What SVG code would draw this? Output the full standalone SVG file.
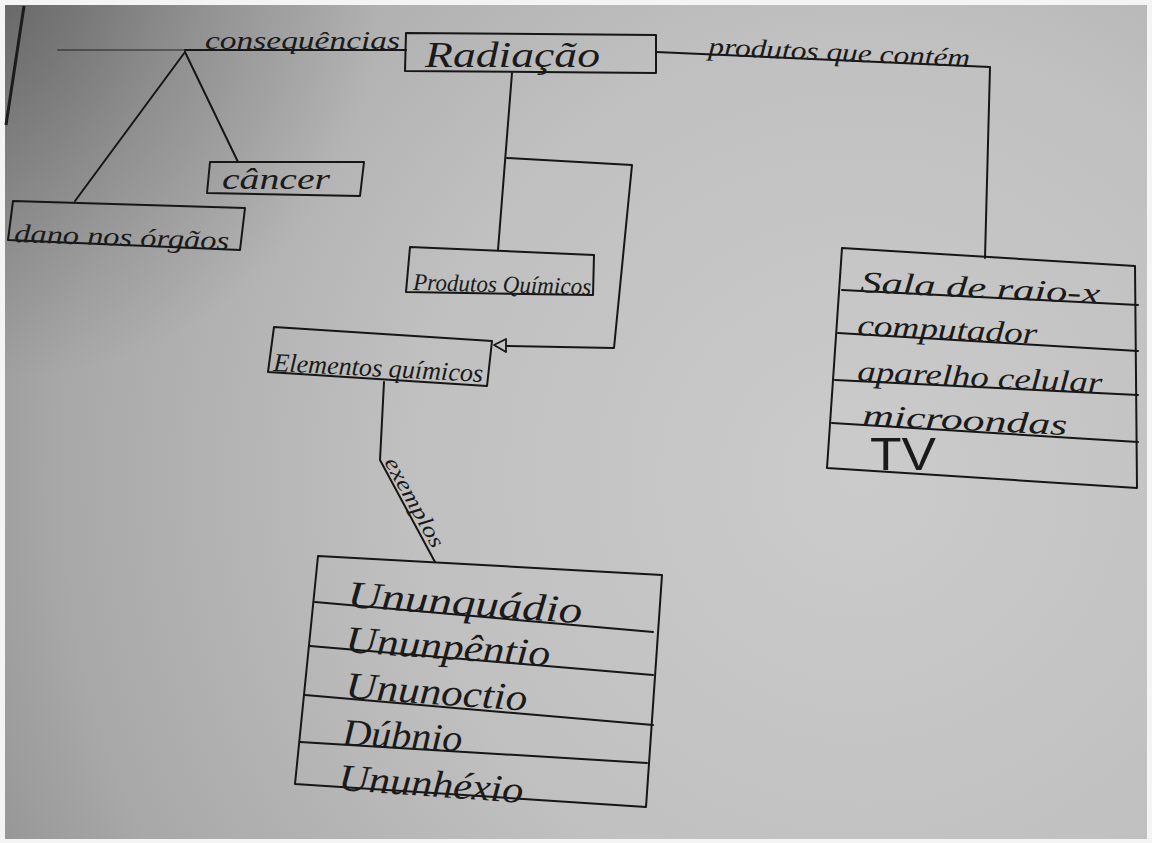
<svg xmlns="http://www.w3.org/2000/svg" width="1152" height="843" viewBox="0 0 1152 843">
  <defs>
    <radialGradient id="paper" gradientUnits="userSpaceOnUse" cx="860" cy="480" r="1000">
      <stop offset="0" stop-color="#cbcbcb"/>
      <stop offset="0.45" stop-color="#c0c0c0"/>
      <stop offset="0.8" stop-color="#a8a8a8"/>
      <stop offset="1" stop-color="#8e8e8e"/>
    </radialGradient>
    <radialGradient id="corner" gradientUnits="userSpaceOnUse" cx="0" cy="0" r="380">
      <stop offset="0" stop-color="#000" stop-opacity="0.28"/>
      <stop offset="1" stop-color="#000" stop-opacity="0"/>
    </radialGradient>
    <style>
      .ink { fill: none; stroke: #161616; stroke-width: 2; stroke-linecap: round; stroke-linejoin: round; }
      .box { fill: none; stroke: #161616; stroke-width: 2; stroke-linejoin: round; }
      .hand { font-family: "Liberation Serif", "DejaVu Serif", serif; font-style: italic; fill: #1a1a1a; }
    </style>
  </defs>

  <!-- sheet of paper -->
  <rect x="0" y="0" width="1152" height="843" fill="#f4f4f4"/>
  <rect x="5" y="5" width="1142" height="834" fill="url(#paper)"/>
  <rect x="5" y="5" width="1142" height="834" fill="url(#corner)"/>
  <path d="M24,6 L6,125" stroke="#1c1c1c" stroke-width="3" fill="none"/>

  <!-- connectors -->
  <g id="connectors">
    <path class="ink" d="M58,50 L185,50" stroke-opacity="0.45"/>
    <path class="ink" d="M185,50 L406,50"/>
    <path class="ink" d="M185,52 L75,201"/>
    <path class="ink" d="M185,52 L238,162"/>
    <path class="ink" d="M656,52 L990,67 L985,258"/>
    <path class="ink" d="M512,73 L498,250"/>
    <path class="ink" d="M507,158 L632,165 L614,348 L507,346"/>
    <path d="M494,345 L506,339 L506,352 Z" fill="none" stroke="#161616" stroke-width="1.8" stroke-linejoin="round"/>
    <path class="ink" d="M384,382 L380,460 L435,562"/>
    <text class="hand" x="205" y="49" font-size="26" textLength="195" lengthAdjust="spacingAndGlyphs">consequências</text>
    <text class="hand" x="708" y="55" font-size="26" textLength="262" lengthAdjust="spacingAndGlyphs" transform="rotate(2.6 708 55)">produtos que contém</text>
    <text class="hand" x="384" y="462" font-size="22" textLength="100" lengthAdjust="spacingAndGlyphs" transform="rotate(61 384 462)">exemplos</text>
  </g>

  <g id="radiacao">
    <path class="box" d="M406,33 L656,35 L656,73 L405,71 Z"/>
    <text class="hand" x="425" y="67" font-size="36" textLength="175" lengthAdjust="spacingAndGlyphs">Radiação</text>
  </g>

  <g id="cancer">
    <path class="box" d="M210,162 L364,162 L360,196 L207,193 Z"/>
    <text class="hand" x="222" y="189" font-size="30" textLength="108" lengthAdjust="spacingAndGlyphs">câncer</text>
  </g>

  <g id="dano">
    <path class="box" d="M13,201 L245,208 L240,250 L8,240 Z"/>
    <text class="hand" x="14" y="242" font-size="26" textLength="215" lengthAdjust="spacingAndGlyphs" transform="rotate(2 14 242)">dano nos órgãos</text>
  </g>

  <g id="produtos-quimicos">
    <path class="box" d="M410,247 L594,255 L593,295 L406,292 Z"/>
    <text class="hand" x="413" y="290" font-size="24" textLength="178" lengthAdjust="spacingAndGlyphs" transform="rotate(1.5 413 290)">Produtos Químicos</text>
  </g>

  <g id="elementos-quimicos">
    <path class="box" d="M274,327 L492,341 L487,386 L268,372 Z"/>
    <text class="hand" x="273" y="371" font-size="26" textLength="210" lengthAdjust="spacingAndGlyphs" transform="rotate(3 273 371)">Elementos químicos</text>
  </g>

  <g id="produtos-lista">
    <path class="box" d="M842,248 L1135,266 L1137,488 L827,468 Z"/>
    <path class="ink" d="M842,290 L1138,305"/>
    <path class="ink" d="M838,333 L1138,351"/>
    <path class="ink" d="M835,380 L1138,395"/>
    <path class="ink" d="M832,423 L1138,442"/>
    <text class="hand" x="860" y="292" font-size="30" textLength="240" lengthAdjust="spacingAndGlyphs" transform="rotate(2.8 860 292)">Sala de raio-x</text>
    <text class="hand" x="857" y="335" font-size="30" textLength="180" lengthAdjust="spacingAndGlyphs" transform="rotate(2.8 857 335)">computador</text>
    <text class="hand" x="857" y="381" font-size="30" textLength="245" lengthAdjust="spacingAndGlyphs" transform="rotate(2.8 857 381)">aparelho celular</text>
    <text class="hand" x="862" y="425" font-size="30" textLength="205" lengthAdjust="spacingAndGlyphs" transform="rotate(2.8 862 425)">microondas</text>
    <text x="870" y="470" font-size="46" textLength="66" lengthAdjust="spacingAndGlyphs" font-family="Liberation Sans, DejaVu Sans, sans-serif" fill="#1a1a1a">TV</text>
  </g>

  <g id="elementos-lista">
    <path class="box" d="M318,556 L662,575 L646,807 L295,784 Z"/>
    <path class="ink" d="M315,602 L653,632"/>
    <path class="ink" d="M310,646 L653,675"/>
    <path class="ink" d="M305,695 L653,725"/>
    <path class="ink" d="M300,742 L647,763"/>
    <text class="hand" x="347" y="607" font-size="38" textLength="235" lengthAdjust="spacingAndGlyphs" transform="rotate(4 347 607)">Ununquádio</text>
    <text class="hand" x="345" y="652" font-size="38" textLength="205" lengthAdjust="spacingAndGlyphs" transform="rotate(4 345 652)">Ununpêntio</text>
    <text class="hand" x="345" y="698" font-size="38" textLength="182" lengthAdjust="spacingAndGlyphs" transform="rotate(4 345 698)">Ununoctio</text>
    <text class="hand" x="342" y="745" font-size="38" textLength="120" lengthAdjust="spacingAndGlyphs" transform="rotate(3 342 745)">Dúbnio</text>
    <text class="hand" x="338" y="790" font-size="38" textLength="185" lengthAdjust="spacingAndGlyphs" transform="rotate(4 338 790)">Ununhéxio</text>
  </g>
</svg>
